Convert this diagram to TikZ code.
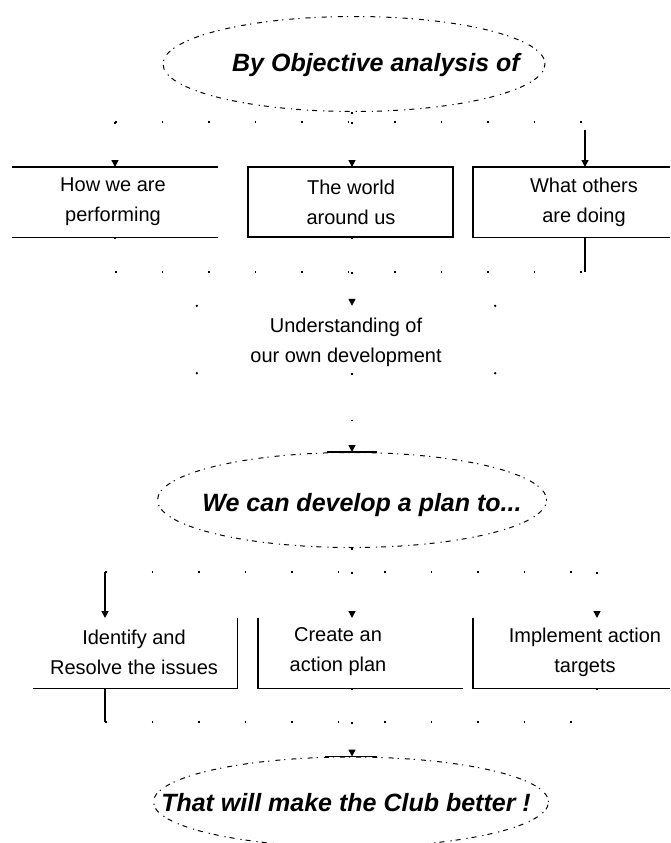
\documentclass[tikz,border=0pt]{standalone}
\usepackage{fontspec}
\setmainfont{Liberation Sans}
\usetikzlibrary{shapes.geometric,arrows.meta}
\begin{document}
\begin{tikzpicture}[x=1pt,y=-1pt,
  oval/.style={ellipse, draw, line width=1pt, dash pattern=on 1.2pt off 4pt on 5pt off 6pt, inner sep=0pt},
  ovaltxt/.style={inner sep=0pt, font=\fontsize{25}{28}\selectfont\bfseries\itshape},
  boxshape/.style={minimum width=#1, minimum height=70pt, inner sep=0pt},
  txt/.style={inner sep=0pt, align=center, font=\fontsize{20}{30}\selectfont},
  edge/.style={line width=1.4pt},
  faint/.style={line width=1.4pt, dash pattern=on 1.5pt off 45pt},
  arr/.style={-{Triangle[length=7pt,width=7pt]}},
]
\useasboundingbox (0,0) rectangle (670,843);

% ellipses
\node[oval, minimum width=382pt, minimum height=95pt] (e1) at (354,64) {};
\node[oval, minimum width=389pt, minimum height=95pt] (e2) at (352,500) {};
\node[oval, minimum width=395pt, minimum height=90pt] (e3) at (351,802) {};
\node[ovaltxt] (e1t) at (376,65) {By Objective analysis of};
\node[ovaltxt] (e2t) at (362,505) {We can develop a plan to...};
\node[ovaltxt] (e3t) at (346,803) {That will make the Club better !};

% top row
\node[boxshape=206pt] (t1) at (115,202) {};
\node[boxshape=205pt] (t2) at (350.5,202) {};
\node[boxshape=197pt] (t3) at (571.5,202) {};
\node[txt] (t1t) at (113,202) {How we are\\performing};
\node[txt] (t2t) at (351,202) {The world\\around us};
\node[txt] (t3t) at (584,202) {What others\\are doing};
\draw[edge] (t1.north west) -- (t1.north east);
\draw[edge] (t1.south west) -- (t1.south east);
\draw[edge, line width=1.8pt] (t2.north west) rectangle (t2.south east);
\draw[edge] (t3.north east) -- (t3.north west) -- (t3.south west) -- (t3.south east);

% middle
\node[boxshape=298pt, minimum height=67pt] (m) at (346,339.5) {};
\node[txt] (mt) at (346,342) {Understanding of\\our own development};
\foreach \c in {north west,north east,south west,south east} \fill (m.\c) circle (1.3pt);

% bottom row
\node[boxshape=204pt] (b1) at (135,653) {};
\node[boxshape=205pt] (b2) at (360.5,653) {};
\node[boxshape=197pt] (b3) at (571.5,653) {};
\node[txt] (b1t) at (134,652) {Identify and\\Resolve the issues};
\node[txt] (b2t) at (338,652) {Create an\\action plan};
\node[txt] (b3t) at (585,652) {Implement action\\targets};
\draw[edge] (b1.north east) -- (b1.south east) -- (b1.south west);
\draw[edge] (b2.north west) -- (b2.south west) -- (b2.south east);
\draw[edge] (b3.north west) -- (b3.south west) -- (b3.south east);

% junction coordinates
\coordinate (j1) at (352,122);
\coordinate (j2) at (352,272);
\coordinate (j3) at (352,572);
\coordinate (j4) at (352,722);
\coordinate (a1) at (115,167);
\coordinate (a2) at (352,167);
\coordinate (a3) at (585,167);
\coordinate (c1) at (105,618);
\coordinate (c2) at (352,618);
\coordinate (c3) at (597,618);

% ellipse 1 -> top row
\draw[faint] (e1.south -| j1) -- (j1);
\draw[faint] (a1 |- j1) -- (a3 |- j1);
\draw[faint, arr] (a1 |- j1) -- (a1);
\draw[faint, arr] (j1) -- (a2);
\draw[edge, arr] ([yshift=37pt]a3) -- (a3);

% top row -> middle
\draw[faint] (a1 |- t1.south) -- (a1 |- j2);
\draw[faint] (a2 |- t2.south) -- (j2);
\draw[edge] (a3 |- t3.south) -- (a3 |- j2);
\draw[faint] (a1 |- j2) -- (a3 |- j2);
\draw[faint, arr] (j2) -- (j2 |- m.north);

% middle -> ellipse 2
\draw[faint, arr] (j2 |- m.south) -- (e2.north);
\draw[edge] ([xshift=-25pt]e2.north) -- ([xshift=25pt]e2.north);

% ellipse 2 -> bottom row
\draw[faint] (e2.south) -- (j3);
\draw[faint] (c1 |- j3) -- (c3 |- j3);
\draw[edge, arr] (c1 |- j3) -- (c1);
\draw[faint, arr] (j3) -- (c2);
\draw[faint, arr] (c3 |- j3) -- (c3);

% bottom row -> ellipse 3
\draw[edge] (c1 |- b1.south) -- (c1 |- j4);
\draw[faint] (c2 |- b2.south) -- (j4);
\draw[faint] (c3 |- b3.south) -- (c3 |- j4);
\draw[faint] (c1 |- j4) -- (c3 |- j4);
\draw[faint, arr] (j4) -- (e3.north -| j4);
\draw[edge] ([xshift=-26pt]e3.north) -- ([xshift=26pt]e3.north);
\end{tikzpicture}
\end{document}
